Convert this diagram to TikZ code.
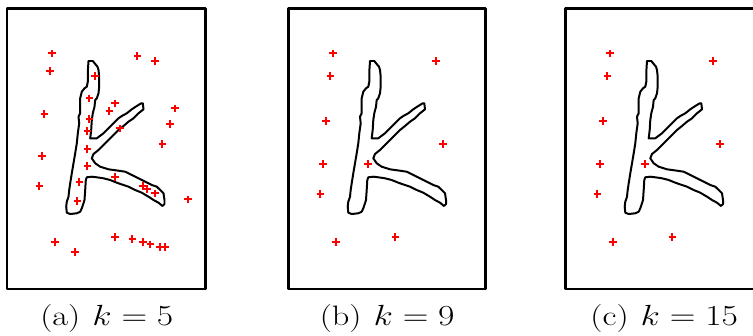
\documentclass[tikz,border=0pt]{standalone}
\usepackage{amsmath}
\usepackage{tikz}

% outline of the handwritten k, drawn in the coordinates of panel (b)
\newcommand{\kletter}{%
  \draw[kline] (370,61) -- (374.3,61) -- (376.7,64) -- (379,66.7) -- (380,70)
    -- (380.7,76.7) -- (380.7,86.7) -- (380,93.3) -- (378.3,98.3) -- (376.7,100)
    -- (376,106.7) -- (374.3,113.3) -- (373.3,120) -- (372.7,130) -- (371.7,138.3)
    -- (378.3,138.3) -- (385,133.3) -- (390,128.3) -- (395,123.3) -- (400,118.3)
    -- (403.3,116) -- (408.3,113.3) -- (413.3,109.3) -- (418.3,106) -- (422.7,103.3)
    -- (424.3,103.3) -- (425,109.3) -- (420,113.3) -- (415,118.3) -- (410,121.7)
    -- (405,126) -- (400,130) -- (395,135) -- (390,140) -- (385,145) -- (380,150)
    -- (375,154) -- (373.3,158.3) -- (376.7,163.3) -- (381.7,166.7) -- (390,169.3)
    -- (400,170.7) -- (406.7,171.7) -- (413.3,175) -- (420,178.3) -- (426.7,181.7)
    -- (433.3,185) -- (438.3,186.7) -- (441.7,190) -- (445,193.3) -- (446,200)
    -- (446,204) -- (444,206) -- (440,202.7) -- (435,200) -- (430,196.7)
    -- (423.3,192.7) -- (416.7,190) -- (410,186.7) -- (405,185) -- (398.3,182.7)
    -- (391.7,180) -- (385,178.3) -- (378.3,177.3) -- (373.3,176.7) -- (368.3,177.3)
    -- (367.3,180) -- (366.7,190) -- (366,200) -- (365,203.3) -- (363.3,208.3)
    -- (361.7,211.7) -- (358.3,213.3) -- (351.7,214) -- (348.3,212.7) -- (347.7,206.7)
    -- (348.3,201.7) -- (350,196.7) -- (350.7,190) -- (351.7,183.3) -- (353.3,173.3)
    -- (355,163.3) -- (356.7,153.3) -- (358.3,143.3) -- (359.3,133.3) -- (360.7,123.3)
    -- (360,116.7) -- (361.7,113.3) -- (361.7,98.3) -- (363.3,91.7) -- (366,88.3)
    -- (368.3,86.7) -- (369.3,81.7) -- (369.3,71.7) -- cycle;}

\begin{document}
\begin{tikzpicture}[x=0.03cm,y=-0.03cm,line join=round,
  panel/.style={line width=2.1pt},
  kline/.style={line width=1.7pt},
  plusmark/.style={red,line width=2pt},
  caption/.style={anchor=base,font=\fontsize{24}{28}\selectfont,xscale=1.22}]
\useasboundingbox (0,0) rectangle (753,336);
\clip (0,0) rectangle (753,336);

% (a) k=5
\draw[panel] (7.2,8.7) rectangle (205.3,289);
\begin{scope}[shift={(-281.5,0)}]
\kletter
\end{scope}
\foreach \x/\y in {51.7/53.3, 49.7/71, 137.3/56, 155/61, 95/76, 89.3/98.3,
  115/103.3, 109.3/111, 175/108.3, 44.3/113.7, 89.3/118.7, 170/124, 120/128.3,
  87.3/131, 162.3/144, 87.3/149, 41.7/156, 87.3/166, 115/176.7, 79.3/181.7,
  39.3/186, 142.7/186, 146.7/189, 155/193.3, 187.7/199.3, 77.3/201, 55/241.7,
  75/251.7, 115/236.7, 132.3/239, 142.7/241.7, 150.3/244.3, 160/246.7, 165/246.7}
  {\draw[plusmark] (\x-3.8,\y) -- (\x+3.8,\y) (\x,\y-3.8) -- (\x,\y+3.8);}
\node[caption] (capa) at (106.8,325) {(a)\hspace{0.35em}$k=5$};

% (b) k=9 and (c) k=15
\foreach \dx/\lbl/\kk in {0/b/9, 277/c/15}{
  \begin{scope}[shift={(\dx,0)}]
  \draw[panel] (288.7,8.7) rectangle (485.7,289);
  \kletter
  \foreach \x/\y in {332.7/53.3, 330.3/76, 435.7/61, 325.7/121, 443/144,
    322.7/164, 368/164, 320.3/193.7, 335.7/241.7, 395.3/236.7}
    {\draw[plusmark] (\x-3.8,\y) -- (\x+3.8,\y) (\x,\y-3.8) -- (\x,\y+3.8);}
  \node[caption] (cap\lbl) at (387.2,325) {(\lbl)\hspace{0.35em}$k=\kk$};
  \end{scope}
}
\end{tikzpicture}
\end{document}
